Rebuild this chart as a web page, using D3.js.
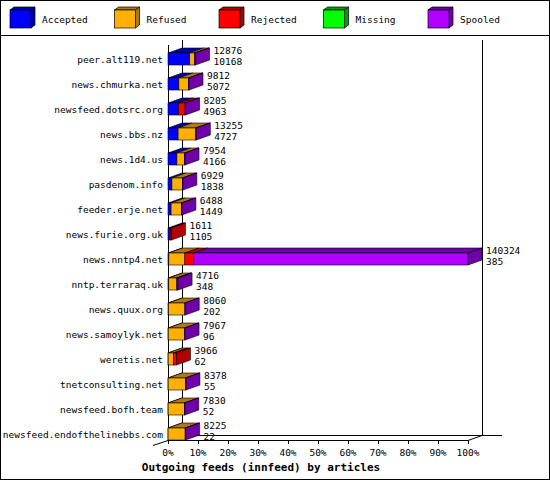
<!DOCTYPE html>
<html><head><meta charset="utf-8">
<script src="https://cdn.jsdelivr.net/npm/d3@7"></script>
<style>body{margin:0;background:#fff}text{font-family:"DejaVu Sans Mono",monospace;font-size:9.5px}</style>
</head><body><svg id="c" width="550" height="480"></svg>
<script>
const hosts = ["peer.alt119.net","news.chmurka.net","newsfeed.dotsrc.org","news.bbs.nz","news.1d4.us","pasdenom.info","feeder.erje.net","news.furie.org.uk","news.nntp4.net","nntp.terraraq.uk","news.quux.org","news.samoylyk.net","weretis.net","tnetconsulting.net","newsfeed.bofh.team","newsfeed.endofthelinebbs.com"];
const offered  = [12876,9812,8205,13255,7954,6929,6488,1611,140324,4716,8060,7967,3966,8378,7830,8225];
const accepted = [10168,5072,4963,4727,4166,1838,1449,1105,385,348,202,96,62,55,52,22];
const refused  = [2300,4500,0,8200,3600,4900,4850,0,7500,3800,7700,7700,2500,8100,7600,8000];
const rejected = [0,0,3000,0,0,0,0,506,4200,100,0,0,1404,0,0,0];
const missing  = [0,0,0,0,0,0,0,0,0,0,0,0,0,0,0,0];
const spooled  = [408,240,242,328,188,191,189,0,128239,468,158,171,0,223,178,203];
const seriesNames = ["Accepted","Refused","Rejected","Missing","Spooled"];
const colors = ["#0000ff","#ffb000","#ff0000","#00ff00","#b000ff"];
const darks  = ["#0000a8","#b07818","#b00000","#00a000","#7000a8"];
const ticks = d3.range(0,101,10);

const svg = d3.select("#c");
svg.append("rect").attr("x",0.5).attr("y",0.5).attr("width",549).attr("height",479).attr("fill","#fff").attr("stroke","#000");
svg.append("line").attr("x1",0).attr("x2",550).attr("y1",35.5).attr("y2",35.5).attr("stroke","#000");

// legend
const lx = d3.scalePoint().domain(seriesNames).range([10,428]);
seriesNames.forEach((n,i)=>{
  const x=lx(n);
  const g=svg.append("g");
  g.append("path").attr("d",`M${x},10 L${x+4},7 L${x+25},7 L${x+21},10Z`).attr("fill",darks[i]).attr("stroke","#000").attr("stroke-width",0.7);
  g.append("path").attr("d",`M${x+21},10 L${x+25},7 L${x+25},25 L${x+21},28Z`).attr("fill",darks[i]).attr("stroke","#000").attr("stroke-width",0.7);
  g.append("rect").attr("x",x).attr("y",10).attr("width",21).attr("height",18).attr("fill",colors[i]).attr("stroke","#000").attr("stroke-width",0.7);
  g.append("text").attr("x",x+32).attr("y",23).text(n);
});

const dx=14, dy=-5;
const maxV = d3.max(offered);
const x = d3.scaleLinear().domain([0,maxV]).range([168,468]);
const xp = d3.scaleLinear().domain([0,100]).range([168,468]);
const y = d3.scaleBand().domain(hosts).range([53,440]).paddingInner(0.52).paddingOuter(0);

// walls
const ax = svg.append("g").attr("stroke","#000").attr("fill","none");
ax.append("line").attr("x1",182.5).attr("x2",182.5).attr("y1",40).attr("y2",435);
ax.append("line").attr("x1",482.5).attr("x2",482.5).attr("y1",40).attr("y2",435);
ax.append("line").attr("x1",168.5).attr("x2",168.5).attr("y1",45).attr("y2",440);
ax.append("line").attr("x1",182).attr("x2",502).attr("y1",435.5).attr("y2",435.5);
ax.append("line").attr("x1",168).attr("x2",468).attr("y1",440.5).attr("y2",440.5);
ax.append("line").attr("x1",468).attr("x2",482).attr("y1",440.5).attr("y2",435.5);
ax.append("line").attr("x1",153).attr("x2",168).attr("y1",445.5).attr("y2",440.5);
ticks.forEach(t=>{
  ax.append("line").attr("x1",xp(t)+0.5).attr("x2",xp(t)+0.5).attr("y1",440).attr("y2",444);
  svg.append("text").attr("x",xp(t)).attr("y",456).attr("text-anchor","middle").text(t+"%");
});

const series=[accepted,refused,rejected,missing,spooled];
hosts.forEach((h,r)=>{
  const y0=y(h), bh=y.bandwidth();
  let cum=0, last=-1;
  const g=svg.append("g");
  series.forEach((s,i)=>{
    const v=s[r]; if(!v) return;
    const a=x(cum), b=x(cum+v); cum+=v; last=i;
    g.append("path").attr("d",`M${a},${y0} L${a+dx},${y0+dy} L${b+dx},${y0+dy} L${b},${y0}Z`).attr("fill",darks[i]).attr("stroke","#000").attr("stroke-width",0.6);
    g.append("rect").attr("x",a).attr("y",y0).attr("width",b-a).attr("height",bh).attr("fill",colors[i]).attr("stroke","#000").attr("stroke-width",0.6);
  });
  const e=x(cum);
  g.append("path").attr("d",`M${e},${y0} L${e+dx},${y0+dy} L${e+dx},${y0+dy+bh} L${e},${y0+bh}Z`).attr("fill",darks[last]).attr("stroke","#000").attr("stroke-width",0.6);
  svg.append("text").attr("x",163).attr("y",y0+bh/2+4).attr("text-anchor","end").text(h);
  svg.append("text").attr("x",e+dx+4).attr("y",y0+1).text(offered[r]);
  svg.append("text").attr("x",e+dx+4).attr("y",y0+12).text(accepted[r]);
});

svg.append("text").attr("x",261).attr("y",471).attr("text-anchor","middle").style("font-weight","bold").style("font-size","11px").text("Outgoing feeds (innfeed) by articles");
</script></body></html>
